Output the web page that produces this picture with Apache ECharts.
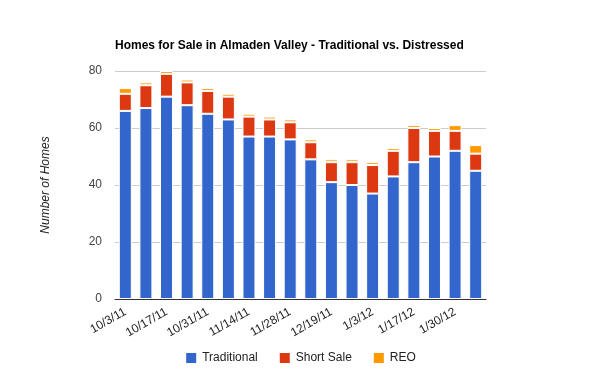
<!DOCTYPE html>
<html>
<head>
<meta charset="utf-8">
<script src="https://cdn.jsdelivr.net/npm/echarts@6/dist/echarts.min.js"></script>
<style>html,body{margin:0;padding:0;background:#fff}#c{width:600px;height:371px}</style>
</head>
<body>
<div id="c"></div>
<script>
var categories = ['10/3/11','10/10/11','10/17/11','10/24/11','10/31/11','11/7/11','11/14/11','11/21/11','11/28/11','12/12/11','12/19/11','12/27/11','1/3/12','1/10/12','1/17/12','1/24/12','1/30/12','2/6/12'];
var traditional = [66,67,71,68,65,63,57,57,56,49,41,40,37,43,48,50,52,45];
var shortSale   = [6,8,8,8,8,8,7,6,6,6,7,8,10,9,12,9,7,6];
var reo         = [2,1,1,1,1,1,1,1,1,1,1,1,1,1,1,1,2,3];
var yTicks = [0,20,40,60,80];

var font = 'Liberation Sans, Arial, sans-serif';
var chart = echarts.init(document.getElementById('c'));
function ser(name, data, color){
  return {name:name, type:'bar', stack:'total', data:data, barWidth:13,
    itemStyle:{color:color, borderColor:'#fff', borderWidth:1}};
}
chart.setOption({
  animation:false,
  textStyle:{fontFamily:font},
  title:{text:'Homes for Sale in Almaden Valley - Traditional vs. Distressed', left:115, top:40, padding:0,
    textStyle:{fontSize:12, fontWeight:'bold', color:'#000', fontFamily:font}},
  grid:{left:115, right:114, top:71, bottom:72},
  legend:{left:'center', top:346, itemWidth:12, itemHeight:12, itemGap:20, icon:'rect',
    textStyle:{fontSize:12, color:'#222', fontFamily:font}},
  xAxis:{type:'category', data:categories,
    axisLine:{lineStyle:{color:'#333', width:1}}, axisTick:{show:false},
    axisLabel:{interval:1, rotate:30, fontSize:12, color:'#222', fontFamily:font, margin:12}},
  yAxis:{type:'value', min:yTicks[0], max:yTicks[yTicks.length-1], interval:20,
    name:'Number of Homes', nameLocation:'middle', nameGap:63, nameRotate:90,
    nameTextStyle:{fontStyle:'italic', fontSize:12, color:'#222', fontFamily:font},
    axisLine:{show:false}, axisTick:{show:false},
    axisLabel:{fontSize:12, color:'#444', fontFamily:font, margin:13}},
  series:[ser('Traditional', traditional, '#3366CC'), ser('Short Sale', shortSale, '#DC3912'), ser('REO', reo, '#FF9900')]
});
chart.setOption({yAxis:{splitLine:{lineStyle:{color:'#ccc', width:1}}}});
</script>
</body>
</html>
